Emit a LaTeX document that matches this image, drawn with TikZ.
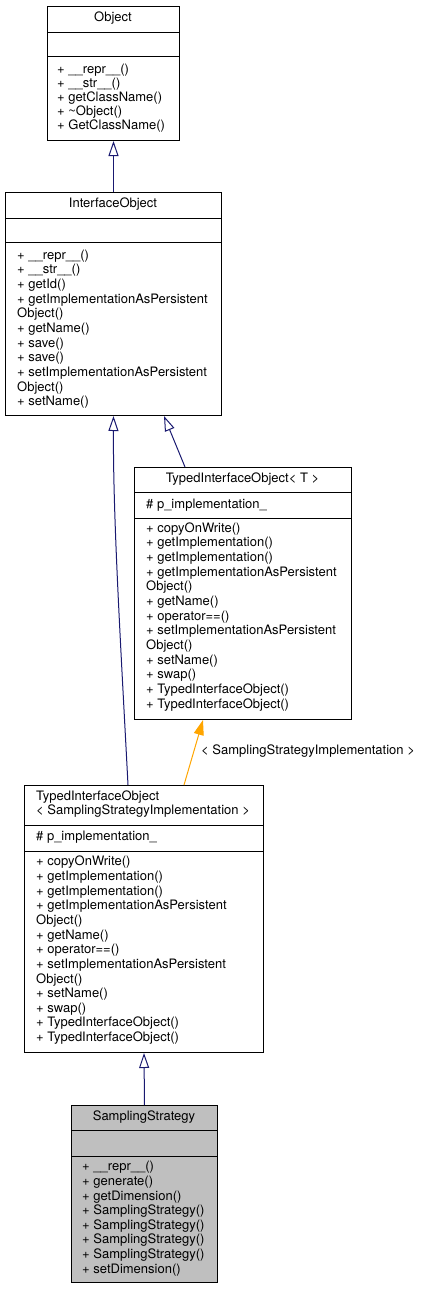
\documentclass[tikz,border=0pt]{standalone}
\usepackage{fontspec}
\setmainfont{TeX Gyre Heros}
\usetikzlibrary{arrows.meta}
\definecolor{edgeblue}{HTML}{191970}
\definecolor{edgeorange}{HTML}{FFA500}
\definecolor{boxgray}{HTML}{BFBFBF}
\begin{document}
\begin{tikzpicture}[x=1pt,y=-1pt,
  classbox/.style={draw=black,line width=1pt,inner sep=0pt,anchor=north west,fill=white},
  divider/.style={draw=black,line width=1pt},
  mem/.style={inner sep=0pt,anchor=west,font=\fontsize{13}{14.67}\selectfont,text height=9.5pt,text depth=3pt},
  ttl/.style={inner sep=0pt,anchor=center,font=\fontsize{13}{14.67}\selectfont,text height=9.5pt,text depth=3pt},
  inh/.style={draw=edgeblue,line width=1pt,-{Triangle[open,length=15pt,width=10pt,fill=white]}},
  tmpl/.style={draw=edgeorange,line width=1pt,-{Triangle[length=15pt,width=10pt,fill=edgeorange]}}
]
\useasboundingbox (0,0) rectangle (423,1291);

% ---- Object ----
\node[classbox,minimum width=132pt,minimum height=134pt] (obj) at (47,6) {};
\draw[divider] ([yshift=-26pt]obj.north west) -- ([yshift=-26pt]obj.north east);
\draw[divider] ([yshift=-50pt]obj.north west) -- ([yshift=-50pt]obj.north east);
\node[ttl] (obj-t) at (113,18.5) {Object};
\foreach \t [count=\i from 0] in {+ \_\_repr\_\_(),+ \_\_str\_\_(),+ getClassName(),+ \textasciitilde Object(),+ GetClassName()}
  \node[mem] (obj-m\i) at (57,{70+14.1*\i}) {\t};

% ---- InterfaceObject ----
\node[classbox,minimum width=216pt,minimum height=223pt] (io) at (5,192) {};
\draw[divider] ([yshift=-26pt]io.north west) -- ([yshift=-26pt]io.north east);
\draw[divider] ([yshift=-50pt]io.north west) -- ([yshift=-50pt]io.north east);
\node[ttl] (io-t) at (113,204.5) {InterfaceObject};
\foreach \t [count=\i from 0] in {+ \_\_repr\_\_(),+ \_\_str\_\_(),+ getId(),+ getImplementationAsPersistent,Object(),+ getName(),+ save(),+ save(),+ setImplementationAsPersistent,Object(),+ setName()}
  \node[mem] (io-m\i) at (17,{256+14.67*\i}) {\t};

% ---- TypedInterfaceObject< T > ----
\node[classbox,minimum width=217pt,minimum height=252pt] (tiot) at (134,467) {};
\draw[divider] ([yshift=-25pt]tiot.north west) -- ([yshift=-25pt]tiot.north east);
\draw[divider] ([yshift=-51pt]tiot.north west) -- ([yshift=-51pt]tiot.north east);
\node[ttl] (tiot-t) at (242.5,479) {TypedInterfaceObject< T >};
\node[mem] (tiot-a) at (146,505) {\# p\_implementation\_};
\foreach \t [count=\i from 0] in {+ copyOnWrite(),+ getImplementation(),+ getImplementation(),+ getImplementationAsPersistent,Object(),+ getName(),+ operator==(),+ setImplementationAsPersistent,Object(),+ setName(),+ swap(),+ TypedInterfaceObject(),+ TypedInterfaceObject()}
  \node[mem] (tiot-m\i) at (146,{529+14.67*\i}) {\t};

% ---- TypedInterfaceObject< SamplingStrategyImplementation > ----
\node[classbox,minimum width=239pt,minimum height=267pt] (tios) at (24,785) {};
\draw[divider] ([yshift=-40pt]tios.north west) -- ([yshift=-40pt]tios.north east);
\draw[divider] ([yshift=-66pt]tios.north west) -- ([yshift=-66pt]tios.north east);
\node[mem] (tios-t1) at (36,797) {TypedInterfaceObject};
\node[mem] (tios-t2) at (36,811.5) {< SamplingStrategyImplementation >};
\node[mem] (tios-a) at (36,837.5) {\# p\_implementation\_};
\foreach \t [count=\i from 0] in {+ copyOnWrite(),+ getImplementation(),+ getImplementation(),+ getImplementationAsPersistent,Object(),+ getName(),+ operator==(),+ setImplementationAsPersistent,Object(),+ setName(),+ swap(),+ TypedInterfaceObject(),+ TypedInterfaceObject()}
  \node[mem] (tios-m\i) at (36,{862.7+14.63*\i}) {\t};

% ---- SamplingStrategy ----
\node[classbox,fill=boxgray,minimum width=146pt,minimum height=177pt] (ss) at (71,1105) {};
\draw[divider] ([yshift=-25pt]ss.north west) -- ([yshift=-25pt]ss.north east);
\draw[divider] ([yshift=-51pt]ss.north west) -- ([yshift=-51pt]ss.north east);
\node[ttl] (ss-t) at (144,1117.5) {SamplingStrategy};
\foreach \t [count=\i from 0] in {+ \_\_repr\_\_(),+ generate(),+ getDimension(),+ SamplingStrategy(),+ SamplingStrategy(),+ SamplingStrategy(),+ SamplingStrategy(),+ setDimension()}
  \node[mem] (ss-m\i) at (82,{1167.7+14.6*\i}) {\t};

% ---- connectors ----
\coordinate (tiot-in) at ([xshift=51pt]tiot.north west);
\coordinate (io-out2) at ([xshift=159pt]io.south west);
\coordinate (tios-in) at ([xshift=104pt]tios.north west);
\coordinate (tios-in2) at ([xshift=160pt]tios.north west);
\coordinate (tiot-out) at ([xshift=69pt]tiot.south west);

\draw[inh] (io.north) -- (obj.south);
\draw[inh] (tiot-in) -- (io-out2);
\draw[inh] (tios-in) .. controls (121,650) and (113,520) .. (io.south);
\draw[tmpl] (tios-in2) -- (tiot-out);
\draw[inh] (ss.north) -- (tios.south);
\node[mem] (lbl) at (201,751) {< SamplingStrategyImplementation >};
\end{tikzpicture}
\end{document}
